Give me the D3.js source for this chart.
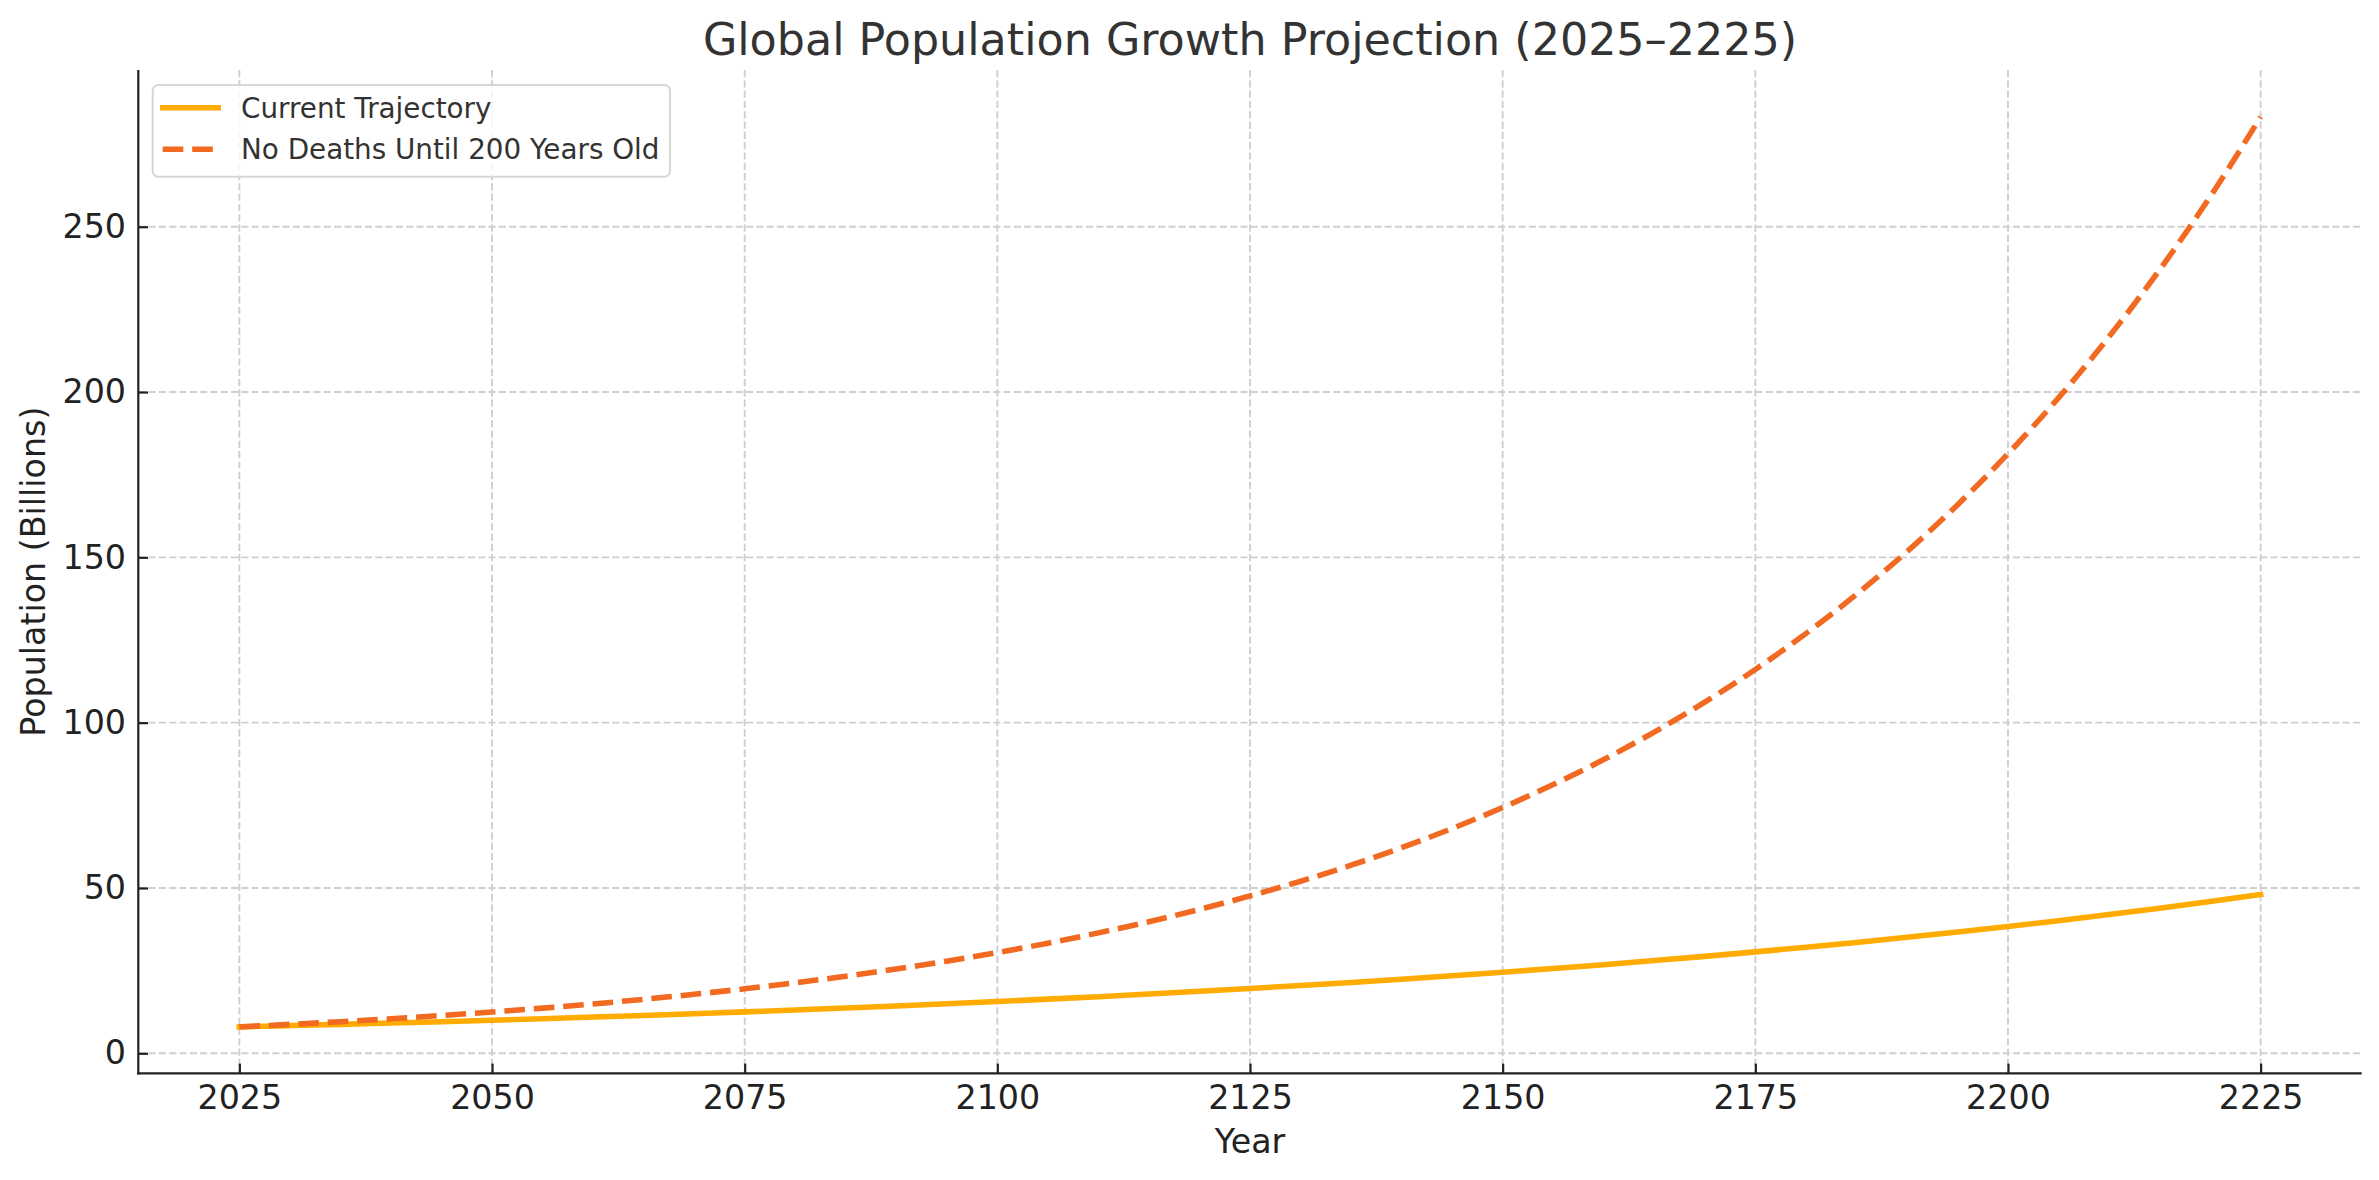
<!DOCTYPE html>
<html>
<head>
<meta charset="utf-8">
<script src="https://cdn.jsdelivr.net/npm/d3@7"></script>
<style>
  html, body { margin: 0; padding: 0; background: #fff; }
  svg { display: block; font-family: "DejaVu Sans", sans-serif; }
</style>
</head>
<body>
<svg id="chart" width="2379" height="1180"></svg>
<script>
// ---- Data (5-year steps) ----
const years = [2025,2030,2035,2040,2045,2050,2055,2060,2065,2070,2075,2080,2085,2090,2095,2100,2105,2110,2115,2120,2125,2130,2135,2140,2145,2150,2155,2160,2165,2170,2175,2180,2185,2190,2195,2200,2205,2210,2215,2220,2225];
const currentTrajectory = [8.00,8.37,8.75,9.15,9.57,10.01,10.47,10.95,11.45,11.97,12.52,13.10,13.70,14.32,14.98,15.67,16.38,17.13,17.92,18.74,19.60,20.50,21.43,22.42,23.44,24.52,25.64,26.81,28.04,29.32,30.67,32.07,33.54,35.08,36.69,38.37,40.12,41.96,43.88,45.89,48.00];
const noDeaths200 = [8.00,8.75,9.56,10.45,11.43,12.49,13.66,14.93,16.32,17.84,19.51,21.33,23.32,25.49,27.87,30.47,33.31,36.42,39.81,43.52,47.60,52.04,56.89,62.20,68.00,74.34,81.27,88.85,97.14,106.20,116.10,126.93,138.77,151.71,165.86,181.33,198.24,216.73,236.94,259.04,283.20];
const seriesNames = ["Current Trajectory", "No Deaths Until 200 Years Old"];
const xTicks = [2025,2050,2075,2100,2125,2150,2175,2200,2225];
const yTicks = [0,50,100,150,200,250];
const titleText = "Global Population Growth Projection (2025\u20132225)";
const xLabel = "Year";
const yLabel = "Population (Billions)";

// ---- Layout ----
const svg = d3.select("#chart");
const L = 138.3, R = 2361.7, T = 70, B = 1073.3;
const x = d3.scaleLinear().domain([2015, 2235]).range([L, R]);
const y = d3.scaleLinear().domain([-6.05, 297.4]).range([B, T]);

const colors = ["#FFAB00", "#F26A21"];
const lw = 5.56;

// grid
const grid = svg.append("g").attr("stroke", "#cfcfcf").attr("stroke-width", 1.9).attr("stroke-dasharray", "7.2,3.1");
grid.selectAll("line.v").data(xTicks).join("line").attr("class","v")
  .attr("x1", d => x(d)).attr("x2", d => x(d)).attr("y1", T).attr("y2", B);
grid.selectAll("line.h").data(yTicks).join("line").attr("class","h")
  .attr("x1", L).attr("x2", R).attr("y1", d => y(d)).attr("y2", d => y(d));

// lines
const line = d3.line().x(d => x(d[0])).y(d => y(d[1])).curve(d3.curveMonotoneX);
const s1 = years.map((yr, i) => [yr, currentTrajectory[i]]);
const s2 = years.map((yr, i) => [yr, noDeaths200[i]]);
svg.append("path").datum(s1).attr("d", line).attr("fill", "none")
  .attr("stroke", colors[0]).attr("stroke-width", lw).attr("stroke-linejoin", "round").attr("stroke-linecap", "square");
svg.append("path").datum(s2).attr("d", line).attr("fill", "none")
  .attr("stroke", colors[1]).attr("stroke-width", lw).attr("stroke-dasharray", "20.6,8.9").attr("stroke-linejoin", "round");

// axes
const xAxis = d3.axisBottom(x).tickValues(xTicks).tickFormat(d3.format("d"))
  .tickSizeInner(-9.7).tickSizeOuter(0).tickPadding(12);
const yAxis = d3.axisLeft(y).tickValues(yTicks).tickFormat(d3.format("d"))
  .tickSizeInner(-9.7).tickSizeOuter(0).tickPadding(12.3);

const gx = svg.append("g").attr("transform", `translate(0,${B})`).call(xAxis);
const gy = svg.append("g").attr("transform", `translate(${L},0)`).call(yAxis);
[gx, gy].forEach(g => {
  g.select(".domain").remove();
  g.selectAll(".tick line").attr("stroke", "#222").attr("stroke-width", 2.2);
  g.selectAll(".tick text").attr("fill", "#222").style("font-size", "33.3px").style("font-family", "DejaVu Sans");
});
// spines (left & bottom)
svg.append("line").attr("x1", L).attr("x2", L).attr("y1", T).attr("y2", B + 1.1)
  .attr("stroke", "#222").attr("stroke-width", 2.2);
svg.append("line").attr("x1", L - 1.1).attr("x2", R).attr("y1", B).attr("y2", B)
  .attr("stroke", "#222").attr("stroke-width", 2.2);

// labels
svg.append("text").attr("x", (L + R) / 2).attr("y", 54.5).attr("text-anchor", "middle")
  .attr("fill", "#333").style("font-size", "44.4px").text(titleText);
svg.append("text").attr("x", (L + R) / 2).attr("y", 1152.7).attr("text-anchor", "middle")
  .attr("fill", "#222").style("font-size", "33.3px").text(xLabel);
svg.append("text").attr("transform", `translate(45.3,${(T + B) / 2}) rotate(-90)`).attr("text-anchor", "middle")
  .attr("fill", "#222").style("font-size", "33.3px").text(yLabel);

// legend
const lg = svg.append("g");
lg.append("rect").attr("x", 152.7).attr("y", 85).attr("width", 517.3).attr("height", 91.7).attr("rx", 5.5)
  .attr("fill", "#fff").attr("fill-opacity", 0.8).attr("stroke", "#d6d6d6").attr("stroke-width", 2);
const legRows = [107.7, 149.3];
seriesNames.forEach((name, i) => {
  const ln = lg.append("line").attr("x1", 160).attr("x2", 221).attr("y1", legRows[i]).attr("y2", legRows[i])
    .attr("stroke", colors[i]).attr("stroke-width", lw);
  if (i === 1) ln.attr("x1", 162.7).attr("stroke-dasharray", "20.6,8.9");
  lg.append("text").attr("x", 241).attr("y", legRows[i] + 9.8).attr("fill", "#333")
    .style("font-size", "27.8px").text(name);
});
</script>
</body>
</html>
